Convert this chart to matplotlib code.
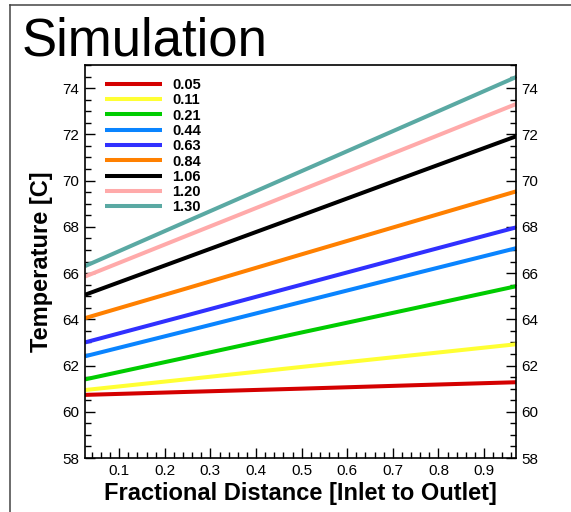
"""
Recreate the 'Simulation' temperature profile chart.
"""

import matplotlib
matplotlib.use('Agg')
import matplotlib.pyplot as plt
from matplotlib.lines import Line2D
from matplotlib.ticker import MultipleLocator

plt.rcParams['font.family'] = ['Liberation Sans', 'DejaVu Sans']

# positions along the channel
distance = [0.025, 0.25, 0.5, 0.75, 0.975]

# series labels and colours
labels = ['0.05', '0.11', '0.21', '0.44', '0.63', '0.84', '1.06', '1.20', '1.30']
colors = ['#d40000', '#ffff33', '#00cc00', '#0a84ff', '#3030ff',
          '#ff8000', '#000000', '#ffaaaa', '#5aa9a3']

# temperatures [C]
temps = [
    [60.73, 60.86, 61.00, 61.15, 61.28],
    [60.94, 61.41, 61.94, 62.46, 62.93],
    [61.40, 62.36, 63.43, 64.49, 65.45],
    [62.40, 63.51, 64.75, 65.99, 67.10],
    [63.00, 64.18, 65.50, 66.82, 68.00],
    [64.05, 65.35, 66.81, 68.26, 69.56],
    [65.06, 66.69, 68.50, 70.32, 71.95],
    [65.85, 67.63, 69.60, 71.57, 73.35],
    [66.30, 68.25, 70.41, 72.57, 74.52],
]


def main():
    fig = plt.figure(figsize=(5.71, 5.12), dpi=100)
    ax = fig.add_axes([85 / 571, 54 / 512, 431 / 571, 393 / 512])

    for lab, col, t in zip(labels, colors, temps):
        ax.plot(distance, t, color=col, lw=2.9, label=lab, solid_capstyle='butt')

    ax.set_xlim(0.025, 0.97)
    ax.set_ylim(58, 75)
    ax.xaxis.set_major_locator(MultipleLocator(0.1))
    ax.xaxis.set_minor_locator(MultipleLocator(0.02))
    ax.yaxis.set_major_locator(MultipleLocator(2))
    ax.yaxis.set_minor_locator(MultipleLocator(0.5))
    ax.xaxis.set_major_formatter(plt.FuncFormatter(lambda v, p: f'{v:.1f}'))

    ax.tick_params(which='both', direction='in', top=False, right=True,
                   labelright=True, labelsize=11, width=1.0, pad=4)
    ax.tick_params(which='major', length=7)
    ax.tick_params(which='minor', length=4)
    for s in ax.spines.values():
        s.set_linewidth(1.2)

    ax.set_xlabel('Fractional Distance [Inlet to Outlet]', fontsize=17,
                  fontweight='bold', labelpad=3)
    ax.set_ylabel('Temperature [C]', fontsize=17, fontweight='bold', labelpad=7)

    ax.legend(loc='upper left', bbox_to_anchor=(0.046, 0.967),
              frameon=False, borderaxespad=0, borderpad=0,
              handlelength=3.9, handletextpad=0.7, labelspacing=0.09,
              prop={'size': 10.5, 'weight': 'bold'})

    fig.text(22 / 571, 1 - 55 / 512, 'Simulation', fontsize=38, va='baseline')

    # page border on the left and the top
    fig.add_artist(Line2D([9.5 / 571, 9.5 / 571], [0, 1 - 4.5 / 512],
                          color='#444444', lw=1.1))
    fig.add_artist(Line2D([9.5 / 571, 1], [1 - 4.5 / 512, 1 - 4.5 / 512],
                          color='#444444', lw=1.1))

    fig.savefig('out.png', dpi=100)


if __name__ == '__main__':
    main()
